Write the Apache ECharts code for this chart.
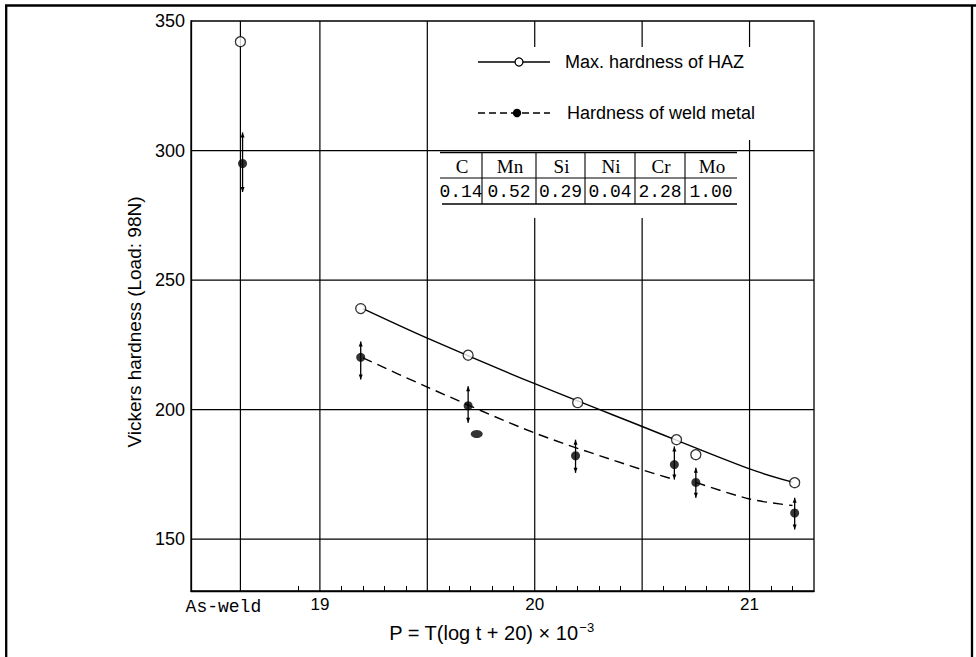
<!DOCTYPE html>
<html><head><meta charset="utf-8">
<script src="https://cdn.jsdelivr.net/npm/echarts@6/dist/echarts.min.js"></script>
<style>html,body{margin:0;padding:0;background:#fff}#c{width:976px;height:657px}</style>
</head><body><div id="c"></div>
<script>
// ---- axis / tick data ----
const xMin = 18.4, xMax = 21.3, yMin = 130, yMax = 350;
const xTickValues = [18.63, 19, 20, 21];
const xTickLabels = ['As-weld', '19', '20', '21'];
const xGridValues = [18.63, 19, 19.5, 20, 20.5, 21];
const xMinorTicks = [18.9, 19.1, 19.2, 19.3, 19.4, 19.6, 19.7, 19.8, 19.9, 20.1, 20.2, 20.3, 20.4, 20.6, 20.7, 20.8, 20.9, 21.1, 21.2];
const yTickValues = [150, 200, 250, 300, 350];
const yGridValues = [150, 200, 250, 300];

// ---- measured points ----
const hazX = [18.63, 19.19, 19.69, 20.2, 20.66, 20.75, 21.21];
const hazY = [342, 239, 221, 202.7, 188.4, 182.6, 171.8];
const weldX = [18.64, 19.19, 19.69, 20.19, 20.65, 20.75, 21.21];
const weldY = [295, 220.2, 201.5, 182.2, 178.8, 171.9, 160.1];
const weldLow = [284, 211.6, 194.9, 175.6, 173, 166, 153.7];
const weldHigh = [307, 226.3, 209, 188.4, 185.8, 177.6, 166];
const outlierX = [19.73];
const outlierY = [190.6];

// ---- fitted curves ----
const hazFitX = [19.2, 19.5, 20, 20.5, 21, 21.2];
const hazFitY = [239, 227.6, 210, 193.5, 177.1, 172];
const weldFit1X = [19.2, 19.5, 20, 20.5, 20.65];
const weldFit1Y = [220, 208.7, 191, 176.8, 173];
const weldFit2X = [20.75, 21, 21.2];
const weldFit2Y = [171.9, 165.5, 163];

// ---- composition table ----
const tableHeader = ['C', 'Mn', 'Si', 'Ni', 'Cr', 'Mo'];
const tableValues = [0.14, 0.52, 0.29, 0.04, 2.28, 1.00];

const seriesNames = ['Max. hardness of HAZ', 'Hardness of weld metal'];

const zip = (a, b) => a.map((v, i) => [v, b[i]]);
const chart = echarts.init(document.getElementById('c'), null, {renderer: 'svg'});

const lineFont = 'Liberation Sans, Arial, sans-serif';

// table geometry
const colX = [440, 482, 536, 585, 635, 685, 737];
const tTop = 152.5, tMid = 178, tBot = 204;
const tableGraphics = [];
tableGraphics.push({type: 'line', z: 6, shape: {x1: colX[0], y1: tTop, x2: colX[6], y2: tTop}, style: {stroke: '#000', lineWidth: 1.3}});
tableGraphics.push({type: 'line', z: 6, shape: {x1: colX[0], y1: tMid, x2: colX[6], y2: tMid}, style: {stroke: '#000', lineWidth: 1.2}});
tableGraphics.push({type: 'line', z: 6, shape: {x1: colX[0] + 2, y1: tBot, x2: colX[6], y2: tBot}, style: {stroke: '#000', lineWidth: 1.3}});
for (let i = 1; i < 6; i++) {
  tableGraphics.push({type: 'line', z: 6, shape: {x1: colX[i], y1: tTop, x2: colX[i], y2: tBot}, style: {stroke: '#000', lineWidth: 1.1}});
}
tableHeader.forEach((h, i) => {
  const cx = (colX[i] + colX[i + 1]) / 2 + 1;
  tableGraphics.push({type: 'text', z: 6, x: cx, y: (tTop + tMid) / 2 + 1,
    style: {text: h, fontFamily: 'Liberation Serif, serif', fontSize: 19, fill: '#000', align: 'center', verticalAlign: 'middle'}});
  tableGraphics.push({type: 'text', z: 6, x: cx - 1, y: (tMid + tBot) / 2 + 1,
    style: {text: tableValues[i].toFixed(2), fontFamily: 'Liberation Mono, monospace', fontSize: 18, fill: '#000', align: 'center', verticalAlign: 'middle'}});
});

const option = {
  animation: false,
  backgroundColor: '#fff',
  grid: {left: 191, top: 21, width: 623, height: 570, show: true, borderColor: '#000', borderWidth: 1.3, backgroundColor: 'transparent'},
  xAxis: {
    type: 'value', min: xMin, max: xMax,
    splitLine: {show: false},
    axisLine: {show: true, lineStyle: {color: '#000', width: 1.3}},
    axisTick: {show: true, inside: true, length: 5, customValues: xMinorTicks, lineStyle: {color: '#000', width: 1}},
    axisLabel: {
      customValues: xTickValues, margin: 5, color: '#000', fontFamily: lineFont, fontSize: 17,
      formatter: (v) => {
        const i = xTickValues.findIndex(t => Math.abs(t - v) < 1e-6);
        if (i < 0) return '';
        return i === 0 ? '{aw|' + xTickLabels[i] + '}' : xTickLabels[i];
      },
      rich: {aw: {fontFamily: 'Liberation Mono, monospace', fontSize: 18, color: '#000', padding: [2, 34, 0, 0]}}
    },
    name: '{m|P = T(log t + 20) × 10}{s|−3}',
    nameLocation: 'middle', nameGap: 15,
    nameTextStyle: {
      padding: [0, 22, 0, 0],
      rich: {
        m: {fontFamily: lineFont, fontSize: 20, color: '#000'},
        s: {fontFamily: lineFont, fontSize: 13, color: '#000', padding: [0, 0, 11, 1]}
      }
    }
  },
  yAxis: {
    type: 'value', min: yMin, max: yMax,
    splitLine: {show: false},
    axisLine: {show: true, lineStyle: {color: '#000', width: 1.3}},
    axisTick: {show: false},
    axisLabel: {customValues: yTickValues, margin: 6, color: '#000', fontFamily: lineFont, fontSize: 18},
    name: 'Vickers hardness (Load: 98N)',
    nameLocation: 'middle', nameGap: 44, nameRotate: 90,
    nameTextStyle: {color: '#000', fontFamily: lineFont, fontSize: 19, padding: [0, 32, 0, 0]}
  },
  series: [
    {
      type: 'custom', z: 1, silent: true,
      data: xGridValues.map(v => [v, yMin]),
      encode: {x: 0, y: 1},
      renderItem: (params, api) => {
        const v = api.value(0);
        const p1 = api.coord([v, yMin]), p2 = api.coord([v, yMax]);
        return {type: 'line', shape: {x1: p1[0], y1: p1[1], x2: p2[0], y2: p2[1]}, style: {stroke: '#000', lineWidth: 1.2}};
      }
    },
    {
      type: 'custom', z: 3, silent: true,
      data: yGridValues.map(v => [xMin, v]),
      encode: {x: 0, y: 1},
      renderItem: (params, api) => {
        const v = api.value(1);
        const p1 = api.coord([xMin, v]), p2 = api.coord([xMax, v]);
        return {type: 'line', shape: {x1: p1[0], y1: p1[1], x2: p2[0], y2: p2[1]}, style: {stroke: '#000', lineWidth: 1.2}};
      }
    },
    {
      name: seriesNames[0], type: 'line', z: 4, smooth: 0.3, symbol: 'none', silent: true,
      data: zip(hazFitX, hazFitY), lineStyle: {color: '#000', width: 1.4}
    },
    {
      name: seriesNames[1], type: 'line', z: 4, smooth: 0.3, symbol: 'none', silent: true,
      data: zip(weldFit1X, weldFit1Y), lineStyle: {color: '#000', width: 1.4, type: [10, 6]}
    },
    {
      name: seriesNames[1], type: 'line', z: 4, smooth: 0.3, symbol: 'none', silent: true,
      data: zip(weldFit2X, weldFit2Y), lineStyle: {color: '#000', width: 1.4, type: [10, 6]}
    },
    {
      type: 'custom', z: 5, silent: true,
      data: weldX.map((x, i) => [x, weldLow[i], weldHigh[i]]),
      encode: {x: 0, y: [1, 2]},
      renderItem: (params, api) => {
        const x = api.value(0), lo = api.value(1), hi = api.value(2);
        const a = api.coord([x, hi]), b = api.coord([x, lo]);
        const w = 2, h = 5;
        return {type: 'group', children: [
          {type: 'line', shape: {x1: a[0], y1: a[1], x2: b[0], y2: b[1]}, style: {stroke: '#000', lineWidth: 1.3}},
          {type: 'polygon', shape: {points: [[a[0], a[1]], [a[0] - w, a[1] + h], [a[0] + w, a[1] + h]]}, style: {fill: '#000'}},
          {type: 'polygon', shape: {points: [[b[0], b[1]], [b[0] - w, b[1] - h], [b[0] + w, b[1] - h]]}, style: {fill: '#000'}}
        ]};
      }
    },
    {
      name: seriesNames[0], type: 'scatter', z: 6, symbol: 'circle', symbolSize: 10, silent: true,
      data: zip(hazX, hazY), itemStyle: {color: '#fff', borderColor: '#000', borderWidth: 1.3}
    },
    {
      name: seriesNames[1], type: 'scatter', z: 6, symbol: 'circle', symbolSize: 9, silent: true,
      data: zip(weldX, weldY), itemStyle: {color: '#000'}
    },
    {
      name: seriesNames[1], type: 'scatter', z: 6, symbol: 'circle', symbolSize: [12, 8], silent: true,
      data: zip(outlierX, outlierY), itemStyle: {color: '#000'}
    }
  ],
  graphic: [
    // covers for legend and table areas (hide vertical grid lines)
    {type: 'rect', z: 2, shape: {x: 460, y: 47, width: 335, height: 93}, style: {fill: '#fff'}},
    {type: 'rect', z: 2, shape: {x: 440, y: 140, width: 300, height: 78}, style: {fill: '#fff'}},
    // legend
    {type: 'line', z: 6, shape: {x1: 478, y1: 62, x2: 550, y2: 62}, style: {stroke: '#000', lineWidth: 1.3}},
    {type: 'circle', z: 7, shape: {cx: 519, cy: 62, r: 4}, style: {fill: '#fff', stroke: '#000', lineWidth: 1.3}},
    {type: 'text', z: 6, x: 565, y: 62, style: {text: seriesNames[0], fontFamily: lineFont, fontSize: 18, fill: '#000', verticalAlign: 'middle'}},
    {type: 'line', z: 6, shape: {x1: 478, y1: 113, x2: 550, y2: 113}, style: {stroke: '#000', lineWidth: 1.3, lineDash: [7, 4]}},
    {type: 'circle', z: 7, shape: {cx: 517, cy: 113, r: 4.2}, style: {fill: '#000'}},
    {type: 'text', z: 6, x: 567, y: 113, style: {text: seriesNames[1], fontFamily: lineFont, fontSize: 18, fill: '#000', verticalAlign: 'middle'}},
    ...tableGraphics,
    // page frame
    {type: 'line', z: 8, shape: {x1: 5, y1: 5.5, x2: 976, y2: 5.5}, style: {stroke: '#000', lineWidth: 2.5}},
    {type: 'line', z: 8, shape: {x1: 6.2, y1: 5, x2: 6.2, y2: 657}, style: {stroke: '#000', lineWidth: 2.3}},
    {type: 'line', z: 8, shape: {x1: 972, y1: 5, x2: 972, y2: 657}, style: {stroke: '#000', lineWidth: 2.3}}
  ]
};
chart.setOption(option);
</script>
</body></html>
